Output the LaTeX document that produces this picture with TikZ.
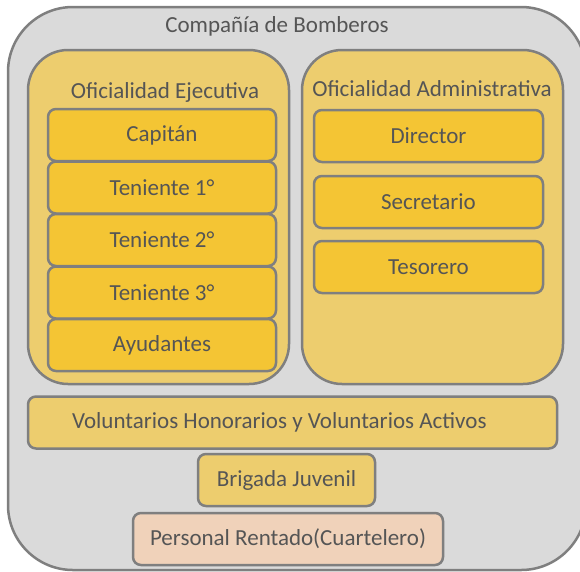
\documentclass[tikz,border=0pt]{standalone}
\usepackage{fontspec}
\setmainfont{Carlito}
\definecolor{cgray}{HTML}{DADADA}
\definecolor{cline}{HTML}{7F7F7F}
\definecolor{cpanel}{HTML}{EDCD6E}
\definecolor{cbox}{HTML}{F4C534}
\definecolor{cpeach}{HTML}{F0D2BA}
\definecolor{ctext}{HTML}{555555}

\begin{document}
\begin{tikzpicture}[x=1pt,y=-1pt,line width=2.5pt,
  every node/.style={text=ctext,font=\fontsize{23}{27}\selectfont,inner sep=0pt},
  panel/.style={draw=cline,fill=cpanel,rounded corners=40pt,minimum width=261pt,minimum height=334pt},
  rank/.style={draw=cline,fill=cbox,rounded corners=8pt,minimum height=52pt},
  band/.style={draw=cline,fill=cpanel,rounded corners=8pt,minimum height=52pt}]
\useasboundingbox (0,0) rectangle (580,571);
\node[draw=cline,fill=cgray,rounded corners=65pt,minimum width=578pt,minimum height=563pt] (cia) at (297,288.5) {};
\node (ciat) at (277,26) {Compañía de Bomberos};
\node[panel] (ej) at (158.5,217) {};
\node[panel] (adm) at (432.5,217) {};
\node (ejt) at (165,92) {Oficialidad Ejecutiva};
\node (admt) at (432,89) {Oficialidad Administrativa};
\foreach \t [count=\i] in {Capitán,Teniente 1°,Teniente 2°,Teniente 3°,Ayudantes}
  \node[rank,minimum width=228pt] (r\i) at (162,{135+52.5*(\i-1)}) {\t};
\node[rank,minimum width=229pt] (dir) at (428.5,136) {Director};
\node[rank,minimum width=229pt] (sec) at (428.5,202) {Secretario};
\node[rank,minimum width=229pt] (tes) at (428.5,267) {Tesorero};
\node[band,minimum width=529pt,text width=441pt,align=flush left] (vol) at (292.5,422.5) {Voluntarios Honorarios y Voluntarios Activos};
\node[band,minimum width=177pt] (bri) at (286.5,480) {Brigada Juvenil};
\node[band,fill=cpeach,minimum width=310pt] (per) at (288,539) {Personal Rentado(Cuartelero)};
\end{tikzpicture}
\end{document}
